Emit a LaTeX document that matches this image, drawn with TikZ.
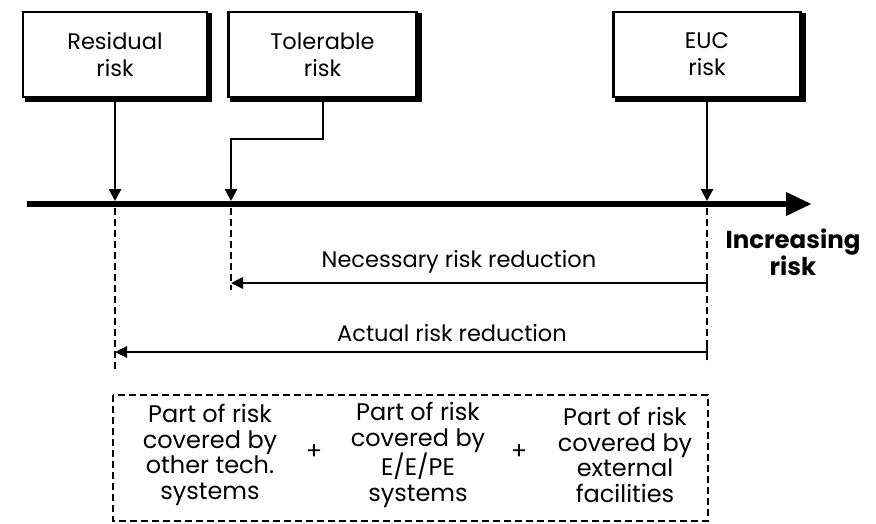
\documentclass[tikz,border=0pt]{standalone}
\usepackage{fontspec}
\setmainfont{Poppins}
\usetikzlibrary{arrows.meta,calc}
\begin{document}
\begin{tikzpicture}[x=1pt,y=-1pt,
  riskbox/.style={draw,line width=2.8pt,fill=white,minimum width=184pt,minimum height=85pt,
    align=center,font=\fontsize{22.5}{27}\selectfont,inner sep=0pt},
  shadowbox/.style={fill=black},
  feed/.style={line width=2.8pt,-{Triangle[length=12pt,width=12pt]}},
  span/.style={line width=2.8pt,-{Triangle[length=12pt,width=11pt]}},
  guide/.style={line width=2.5pt,dash pattern=on 7pt off 4pt},
  lbl/.style={font=\fontsize{22.5}{27}\selectfont,inner sep=0pt},
  part/.style={align=center,font=\fontsize{24}{25.5}\selectfont,inner sep=0pt}]
\useasboundingbox (0,0) rectangle (876,523);

% drop shadows behind the three boxes
\fill[shadowbox] (25,13) rectangle (211.5,101.5);
\fill[shadowbox] (230,13) rectangle (421.5,101.5);
\fill[shadowbox] (615,13) rectangle (805.5,101.5);

% risk level boxes
\node[riskbox] (resid) at (115,54.5) {Residual\\risk};
\node[riskbox,minimum width=188pt] (toler) at (322.5,54.5) {Tolerable\\risk};
\node[riskbox,minimum width=187pt] (euc) at (707,54.5) {EUC\\risk};

% risk axis
\coordinate (ax0) at (27,204);
\coordinate (ax1) at (812,204);
\draw[line width=6.5pt,-{Triangle[length=26pt,width=22pt]}] (ax0) -- (ax1);

% points on the axis
\coordinate (pres) at (115,201);
\coordinate (ptol) at (231,201);
\coordinate (peuc) at (707,201);
\coordinate (bend) at (323,139);

\draw[feed] (resid.south) -- (pres);
\draw[feed] (toler.south -| bend) -- (bend) -| (ptol);
\draw[feed] (euc.south) -- (peuc);

% dashed guides below the axis
\coordinate (gres) at (115,370);
\coordinate (gtol) at (231,290);
\coordinate (geuc) at (707,362);
\draw[guide] (115,208) -- (gres);
\draw[guide] (231,208) -- (gtol);
\draw[guide] (707,208) -- (geuc);

% risk reduction spans
\coordinate (nstart) at (707,283);
\coordinate (nend) at (231,283);
\coordinate (astart) at (707,352);
\coordinate (aend) at (115,352);
\draw[span] (nstart) -- (nend);
\draw[span] (astart) -- (aend);
\draw[line width=2.8pt] (707,275) -- (707,291);
\draw[line width=2.8pt] (707,344) -- (707,360);

\node[lbl] (nlab) at (459,262) {Necessary risk reduction};
\node[lbl] (alab) at (452,333) {Actual risk reduction};
\node[align=center,font=\fontsize{24.5}{25}\selectfont\bfseries,inner sep=0pt] (inc) at (793,252) {Increasing\\risk};

% contributions to the actual reduction
\draw[guide] (113,395) rectangle (708,521);
\node[part] (p1) at (210,455) {Part of risk\\covered by\\other tech.\\systems};
\node[part] (p2) at (418,455) {Part of risk\\covered by\\E/E/PE\\systems};
\node[part] (p3) at (625,455) {Part of risk\\covered by\\external\\facilities};
\node[lbl,font=\fontsize{24}{24}\selectfont] (plus1) at (314,452) {+};
\node[lbl,font=\fontsize{24}{24}\selectfont] (plus2) at (519,452) {+};
\end{tikzpicture}
\end{document}
